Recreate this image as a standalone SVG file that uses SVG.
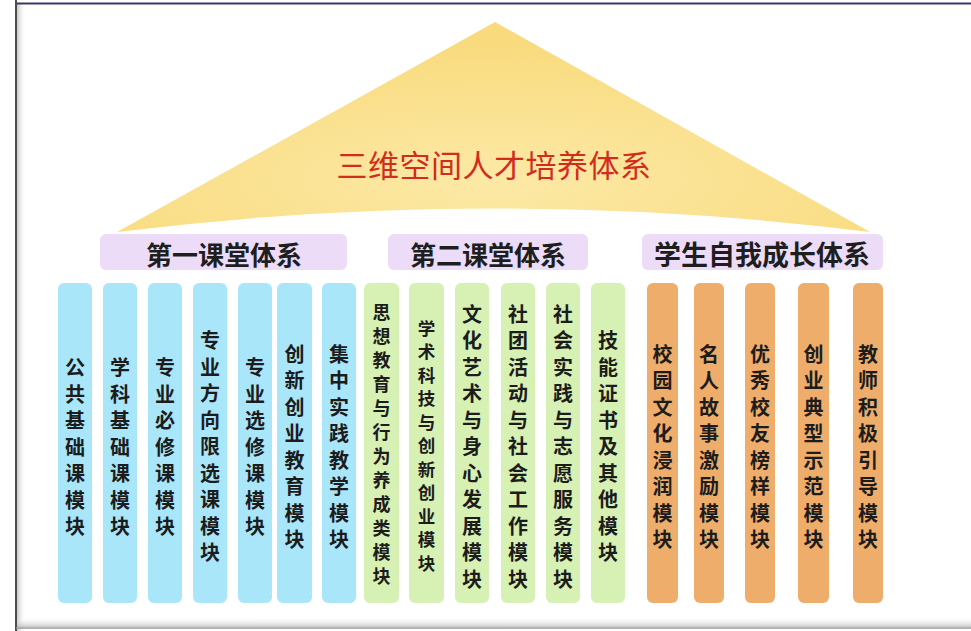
<svg xmlns="http://www.w3.org/2000/svg" width="971" height="631" viewBox="0 0 971 631">
  <defs>
    <radialGradient id="tri" cx="0.5" cy="0.75" r="0.65">
      <stop offset="0" stop-color="#fce9a6"/>
      <stop offset="1" stop-color="#f9db7e"/>
    </radialGradient>
    <linearGradient id="shadowL" x1="0" y1="0" x2="1" y2="0">
      <stop offset="0" stop-color="#bbbbbb" stop-opacity="0.8"/>
      <stop offset="1" stop-color="#ffffff" stop-opacity="0"/>
    </linearGradient>
    <linearGradient id="shadowB" x1="0" y1="1" x2="0" y2="0">
      <stop offset="0" stop-color="#bbbbbb" stop-opacity="0.8"/>
      <stop offset="1" stop-color="#ffffff" stop-opacity="0"/>
    </linearGradient>
  </defs>
  <style>
    .hdr { fill: #ecdcf8; }
    .hdrt { font-family: "Noto Sans CJK SC", "Noto Sans", sans-serif; font-weight: bold; fill: #1e1e1e; text-anchor: middle; dominant-baseline: central; }
    .blue { fill: #a9e6fa; }
    .green { fill: #d7f0b3; }
    .orange { fill: #eead6b; }
    .col { font-family: "Noto Sans CJK SC", "Noto Sans", sans-serif; font-weight: bold; font-size: 20px; fill: #1c1c1c; text-anchor: middle; dominant-baseline: central; }
    .title { font-family: "Noto Sans CJK SC", "Noto Sans", sans-serif; font-size: 31px; fill: #d22c1c; text-anchor: middle; dominant-baseline: central; letter-spacing: 0.5px; }
  </style>
  <rect x="0" y="0" width="971" height="631" fill="#ffffff"/>
  <!-- frame -->
  <rect x="17" y="4" width="9" height="627" fill="url(#shadowL)"/>
  <rect x="17" y="617" width="954" height="10" fill="url(#shadowB)"/>
  <line x1="15" y1="3.5" x2="971" y2="3.5" stroke="#3f3562" stroke-width="2"/>
  <line x1="16" y1="0" x2="16" y2="631" stroke="#4d4d4d" stroke-width="2"/>
  <line x1="16" y1="628" x2="971" y2="628" stroke="#9a9a9a" stroke-width="1.5"/>

  <!-- roof -->
  <g id="roof">
    <path d="M495,22 L870,232 Q495,185 117,232 Z" fill="url(#tri)"/>
    <text class="title" x="494" y="163">三维空间人才培养体系</text>
  </g>

  <!-- headers -->
  <g id="header1">
    <rect class="hdr" x="100" y="234" width="247" height="36" rx="6"/>
    <text class="hdrt" x="224" y="253" font-size="26">第一课堂体系</text>
  </g>
  <g id="header2">
    <rect class="hdr" x="388" y="234" width="200" height="36" rx="6"/>
    <text class="hdrt" x="488" y="253" font-size="26">第二课堂体系</text>
  </g>
  <g id="header3">
    <rect class="hdr" x="642" y="234" width="241" height="36" rx="6"/>
    <text class="hdrt" x="762" y="253" font-size="27">学生自我成长体系</text>
  </g>

  <g id="connectors"></g>

  <!-- blue columns -->
  <g id="b1"><rect class="blue" x="58" y="283" width="34" height="320" rx="6"/>
    <text class="col"><tspan x="75" y="366">公</tspan><tspan x="75" y="392.5">共</tspan><tspan x="75" y="419">基</tspan><tspan x="75" y="445.5">础</tspan><tspan x="75" y="472">课</tspan><tspan x="75" y="498.5">模</tspan><tspan x="75" y="525">块</tspan></text></g>
  <g id="b2"><rect class="blue" x="103" y="283" width="34" height="320" rx="6"/>
    <text class="col"><tspan x="120" y="366">学</tspan><tspan x="120" y="392.5">科</tspan><tspan x="120" y="419">基</tspan><tspan x="120" y="445.5">础</tspan><tspan x="120" y="472">课</tspan><tspan x="120" y="498.5">模</tspan><tspan x="120" y="525">块</tspan></text></g>
  <g id="b3"><rect class="blue" x="148" y="283" width="34" height="320" rx="6"/>
    <text class="col"><tspan x="165" y="366">专</tspan><tspan x="165" y="392.5">业</tspan><tspan x="165" y="419">必</tspan><tspan x="165" y="445.5">修</tspan><tspan x="165" y="472">课</tspan><tspan x="165" y="498.5">模</tspan><tspan x="165" y="525">块</tspan></text></g>
  <g id="b4"><rect class="blue" x="193" y="283" width="34" height="320" rx="6"/>
    <text class="col"><tspan x="210" y="339">专</tspan><tspan x="210" y="365.5">业</tspan><tspan x="210" y="392">方</tspan><tspan x="210" y="418.5">向</tspan><tspan x="210" y="445">限</tspan><tspan x="210" y="471.5">选</tspan><tspan x="210" y="498">课</tspan><tspan x="210" y="524.5">模</tspan><tspan x="210" y="551">块</tspan></text></g>
  <g id="b5"><rect class="blue" x="238" y="283" width="34" height="320" rx="6"/>
    <text class="col"><tspan x="255" y="366">专</tspan><tspan x="255" y="392.5">业</tspan><tspan x="255" y="419">选</tspan><tspan x="255" y="445.5">修</tspan><tspan x="255" y="472">课</tspan><tspan x="255" y="498.5">模</tspan><tspan x="255" y="525">块</tspan></text></g>
  <g id="b6"><rect class="blue" x="277" y="283" width="35" height="320" rx="6"/>
    <text class="col"><tspan x="294.5" y="352.5">创</tspan><tspan x="294.5" y="379">新</tspan><tspan x="294.5" y="405.5">创</tspan><tspan x="294.5" y="432">业</tspan><tspan x="294.5" y="458.5">教</tspan><tspan x="294.5" y="485">育</tspan><tspan x="294.5" y="511.5">模</tspan><tspan x="294.5" y="538">块</tspan></text></g>
  <g id="b7"><rect class="blue" x="322" y="283" width="34" height="320" rx="6"/>
    <text class="col"><tspan x="339" y="352.5">集</tspan><tspan x="339" y="379">中</tspan><tspan x="339" y="405.5">实</tspan><tspan x="339" y="432">践</tspan><tspan x="339" y="458.5">教</tspan><tspan x="339" y="485">学</tspan><tspan x="339" y="511.5">模</tspan><tspan x="339" y="538">块</tspan></text></g>

  <!-- green columns -->
  <g id="g1"><rect class="green" x="364" y="283" width="35" height="320" rx="6"/>
    <text class="col" style="font-size:18px"><tspan x="381.5" y="311">思</tspan><tspan x="381.5" y="335">想</tspan><tspan x="381.5" y="359">教</tspan><tspan x="381.5" y="383">育</tspan><tspan x="381.5" y="407">与</tspan><tspan x="381.5" y="431">行</tspan><tspan x="381.5" y="455">为</tspan><tspan x="381.5" y="479">养</tspan><tspan x="381.5" y="503">成</tspan><tspan x="381.5" y="527">类</tspan><tspan x="381.5" y="551">模</tspan><tspan x="381.5" y="575">块</tspan></text></g>
  <g id="g2"><rect class="green" x="409" y="283" width="35" height="320" rx="6"/>
    <text class="col" style="font-size:17.5px"><tspan x="426.5" y="326.5">学</tspan><tspan x="426.5" y="350">术</tspan><tspan x="426.5" y="373.5">科</tspan><tspan x="426.5" y="397">技</tspan><tspan x="426.5" y="420.5">与</tspan><tspan x="426.5" y="444">创</tspan><tspan x="426.5" y="467.5">新</tspan><tspan x="426.5" y="491">创</tspan><tspan x="426.5" y="514.5">业</tspan><tspan x="426.5" y="538">模</tspan><tspan x="426.5" y="561.5">块</tspan></text></g>
  <g id="g3"><rect class="green" x="455" y="283" width="34" height="320" rx="6"/>
    <text class="col"><tspan x="472" y="312.5">文</tspan><tspan x="472" y="339">化</tspan><tspan x="472" y="365.5">艺</tspan><tspan x="472" y="392">术</tspan><tspan x="472" y="418.5">与</tspan><tspan x="472" y="445">身</tspan><tspan x="472" y="471.5">心</tspan><tspan x="472" y="498">发</tspan><tspan x="472" y="524.5">展</tspan><tspan x="472" y="551">模</tspan><tspan x="472" y="577.5">块</tspan></text></g>
  <g id="g4"><rect class="green" x="501" y="283" width="34" height="320" rx="6"/>
    <text class="col"><tspan x="518" y="312.5">社</tspan><tspan x="518" y="339">团</tspan><tspan x="518" y="365.5">活</tspan><tspan x="518" y="392">动</tspan><tspan x="518" y="418.5">与</tspan><tspan x="518" y="445">社</tspan><tspan x="518" y="471.5">会</tspan><tspan x="518" y="498">工</tspan><tspan x="518" y="524.5">作</tspan><tspan x="518" y="551">模</tspan><tspan x="518" y="577.5">块</tspan></text></g>
  <g id="g5"><rect class="green" x="546" y="283" width="34" height="320" rx="6"/>
    <text class="col"><tspan x="563" y="312.5">社</tspan><tspan x="563" y="339">会</tspan><tspan x="563" y="365.5">实</tspan><tspan x="563" y="392">践</tspan><tspan x="563" y="418.5">与</tspan><tspan x="563" y="445">志</tspan><tspan x="563" y="471.5">愿</tspan><tspan x="563" y="498">服</tspan><tspan x="563" y="524.5">务</tspan><tspan x="563" y="551">模</tspan><tspan x="563" y="577.5">块</tspan></text></g>
  <g id="g6"><rect class="green" x="591" y="283" width="34" height="320" rx="6"/>
    <text class="col"><tspan x="608" y="339">技</tspan><tspan x="608" y="365.5">能</tspan><tspan x="608" y="392">证</tspan><tspan x="608" y="418.5">书</tspan><tspan x="608" y="445">及</tspan><tspan x="608" y="471.5">其</tspan><tspan x="608" y="498">他</tspan><tspan x="608" y="524.5">模</tspan><tspan x="608" y="551">块</tspan></text></g>

  <!-- orange columns -->
  <g id="o1"><rect class="orange" x="647" y="283" width="31" height="320" rx="6"/>
    <text class="col"><tspan x="662.5" y="352.5">校</tspan><tspan x="662.5" y="379">园</tspan><tspan x="662.5" y="405.5">文</tspan><tspan x="662.5" y="432">化</tspan><tspan x="662.5" y="458.5">浸</tspan><tspan x="662.5" y="485">润</tspan><tspan x="662.5" y="511.5">模</tspan><tspan x="662.5" y="538">块</tspan></text></g>
  <g id="o2"><rect class="orange" x="694" y="283" width="30" height="320" rx="6"/>
    <text class="col"><tspan x="709" y="352.5">名</tspan><tspan x="709" y="379">人</tspan><tspan x="709" y="405.5">故</tspan><tspan x="709" y="432">事</tspan><tspan x="709" y="458.5">激</tspan><tspan x="709" y="485">励</tspan><tspan x="709" y="511.5">模</tspan><tspan x="709" y="538">块</tspan></text></g>
  <g id="o3"><rect class="orange" x="745" y="283" width="30" height="320" rx="6"/>
    <text class="col"><tspan x="760" y="352.5">优</tspan><tspan x="760" y="379">秀</tspan><tspan x="760" y="405.5">校</tspan><tspan x="760" y="432">友</tspan><tspan x="760" y="458.5">榜</tspan><tspan x="760" y="485">样</tspan><tspan x="760" y="511.5">模</tspan><tspan x="760" y="538">块</tspan></text></g>
  <g id="o4"><rect class="orange" x="798" y="283" width="31" height="320" rx="6"/>
    <text class="col"><tspan x="813.5" y="352.5">创</tspan><tspan x="813.5" y="379">业</tspan><tspan x="813.5" y="405.5">典</tspan><tspan x="813.5" y="432">型</tspan><tspan x="813.5" y="458.5">示</tspan><tspan x="813.5" y="485">范</tspan><tspan x="813.5" y="511.5">模</tspan><tspan x="813.5" y="538">块</tspan></text></g>
  <g id="o5"><rect class="orange" x="853" y="283" width="30" height="320" rx="6"/>
    <text class="col"><tspan x="868" y="352.5">教</tspan><tspan x="868" y="379">师</tspan><tspan x="868" y="405.5">积</tspan><tspan x="868" y="432">极</tspan><tspan x="868" y="458.5">引</tspan><tspan x="868" y="485">导</tspan><tspan x="868" y="511.5">模</tspan><tspan x="868" y="538">块</tspan></text></g>
</svg>
